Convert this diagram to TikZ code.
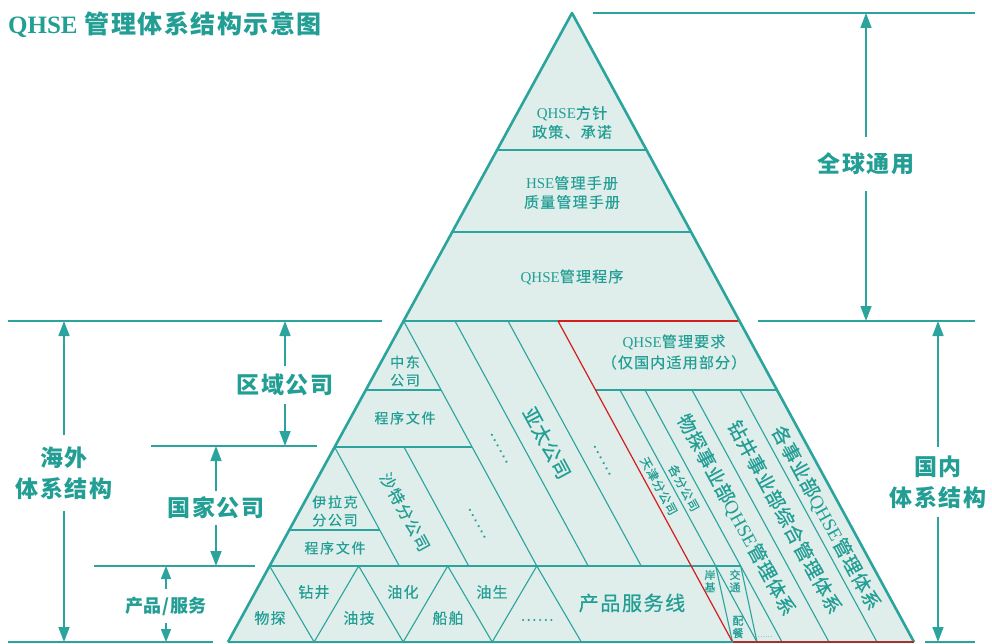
\documentclass[tikz,border=0pt]{standalone}
\usepackage{fontspec}
\setmainfont{Noto Sans CJK SC}
\newfontfamily\lat{Liberation Serif}
\usetikzlibrary{arrows.meta}
\definecolor{tl}{RGB}{42,164,156}
\definecolor{tx}{RGB}{34,158,148}
\definecolor{fl}{RGB}{223,237,235}
\definecolor{rd}{RGB}{210,30,30}
\definecolor{rdb}{RGB}{165,50,50}
\tikzset{
  pedge/.style={draw=tl, line width=2.6pt, line join=round},
  pthin/.style={draw=tl, line width=1.1pt},
  pmid/.style={draw=tl, line width=2pt},
  pred/.style={draw=rd, line width=1.2pt},
  annl/.style={draw=tl, line width=1.5pt},
  arr/.style={draw=tl, line width=1.5pt, -{Triangle[length=15pt,width=11pt]}},
  arrs/.style={draw=tl, line width=1.5pt, -{Triangle[length=13pt,width=10pt]}},
  lbl/.style={text=tx, align=center, inner sep=0pt},
  s11/.style={lbl, font=\fontsize{11}{12.5}\selectfont\addfontfeature{FakeBold=0.3}},
  s12/.style={lbl, font=\fontsize{12}{14}\selectfont\addfontfeature{LetterSpace=8,FakeBold=0.3}},
  s14/.style={lbl, font=\fontsize{14}{18}\selectfont\addfontfeature{LetterSpace=12,FakeBold=0.4}},
  s15/.style={lbl, font=\fontsize{15}{19}\selectfont\addfontfeature{LetterSpace=8,FakeBold=0.4}},
  s16/.style={lbl, font=\fontsize{16}{19}\selectfont\addfontfeature{LetterSpace=10,FakeBold=0.4}},
  s19/.style={lbl, font=\fontsize{19}{22}\selectfont\addfontfeature{LetterSpace=4,FakeBold=0.6}},
  s20/.style={lbl, font=\fontsize{20}{24}\selectfont\addfontfeature{LetterSpace=8,FakeBold=0.6}},
  big/.style={lbl, font=\bfseries\fontsize{23}{31}\selectfont\addfontfeature{LetterSpace=8}},
  rot/.style={rotate=-61.5},
}
\begin{document}
\begin{tikzpicture}[x=1pt,y=-1pt]
\useasboundingbox (0,0) rectangle (992,644);
% pyramid
\coordinate (A) at (572,13);
\coordinate (L) at (228,642);
\coordinate (R) at (914,642);
\coordinate (RB) at (732.5,642);
\fill[fl] (A) -- (L) -- (R) -- cycle;
% upper bands
\draw[pmid] (497.1,150) -- (646.5,150);
\draw[pmid] (452.2,232) -- (691.1,232);
\draw[pmid] (403.6,321) -- (558,321);
\draw[pred] (558,321) -- (739.5,321);
% overseas region
\draw[pthin] (403.6,321) -- (536.8,566);
\draw[pthin] (455,321) -- (588.2,566);
\draw[pthin] (508,321) -- (641.2,566);
\draw[pmid] (365.8,390) -- (441.1,390);
\draw[pmid] (334.6,447) -- (472.1,447);
\draw[pthin] (334.6,447) -- (399.3,566);
\draw[pthin] (404,447) -- (468.7,566);
\draw[pmid] (289.3,530) -- (379.7,530);
% domestic region
\draw[pmid] (595.5,390) -- (777,390);
\draw[pthin] (620,390) -- (757,642);
\draw[pthin] (645,390) -- (782,642);
\draw[pthin] (692,390) -- (829,642);
\draw[pthin] (740,390) -- (877,642);
\draw[pthin] (715.7,566) -- (RB);
\draw[pthin] (740.7,566) -- (757,642);
% product row
\draw[pmid] (269.6,566) -- (740.7,566);
\draw[pthin] (269.6,566) -- (314.1,642) -- (358.7,566) -- (403.2,642) -- (447.7,566)
  -- (492.2,642) -- (536.8,566) -- (581.3,642);
\draw[pred] (558,321) -- (RB);
% outline
\draw[pedge] (L) -- (A) -- (R);
\draw[pedge] (L) -- (RB);
\draw[draw=rdb, line width=2pt] (RB) -- (R);

% pyramid texts
\node[s15] (t1) at (572,122.5) {{\lat QHSE}方针\\政策、承诺};
\node[s15] (t2) at (572,192.5) {{\lat HSE}管理手册\\质量管理手册};
\node[s15] (t3) at (572,277) {{\lat QHSE}管理程序};
\node[s15] (t4) at (674,352) {{\lat QHSE}管理要求\\[2pt]（仅国内适用部分）};
\node[s14] (zd) at (405,371) {中东\\公司};
\node[s14] (cx1) at (405,418) {程序文件};
\node[s14] (ylk) at (335,511) {伊拉克\\分公司};
\node[s14] (cx2) at (335,548) {程序文件};
\node[s16,rot] (st) at (405,512) {沙特分公司};
\node[s16,rot] (dt1) at (477,523) {……};
\node[s16,rot] (dt2) at (499,448) {……};
\node[s19,rot] (yt) at (547,443) {亚太公司};
\node[s16,rot] (dt3) at (602,460) {……};
\node[s12,rot] (tj) at (659,486) {天津分公司};
\node[s12,rot] (gf) at (684,488) {各分公司};
\node[s19,rot] (wt) at (736,515) {物探事业部{\lat QHSE}管理体系};
\node[s19,rot] (zj) at (785,517) {钻井事业部综合管理体系};
\node[s19,rot] (gs) at (826,518) {各事业部{\lat QHSE}管理体系};
% product row texts
\node[s15] (p1) at (270,618) {物探};
\node[s15] (p2) at (314,592) {钻井};
\node[s15] (p3) at (359,618) {油技};
\node[s15] (p4) at (403,592) {油化};
\node[s15] (p5) at (448,618) {船舶};
\node[s15] (p6) at (492,592) {油生};
\node[s15] (p7) at (537,620) {……};
\node[s20] (cp) at (632,603) {产品服务线};
\node[s11] (aj) at (710,581) {岸\\基};
\node[s11] (jt) at (735,581) {交\\通};
\node[s11] (pc) at (738,627) {配\\餐};
\node[lbl, font=\fontsize{7}{8}\selectfont] (dt4) at (765,637) {……};

% title
\node[lbl, anchor=west, font=\bfseries\fontsize{25}{28}\selectfont\addfontfeature{LetterSpace=6}] (title) at (8,25) {{\lat QHSE} 管理体系结构示意图};

% reference lines
\draw[annl] (593,13) -- (975,13);
\draw[annl] (758,321) -- (975,321);
\draw[annl] (8,321) -- (382,321);
\draw[annl] (151,446) -- (317,446);
\draw[annl] (94,566) -- (255,566);
\draw[annl] (8,642) -- (213,642);
\draw[annl] (925,642) -- (975,642);

% annotation labels and arrows
\node[big, inner ysep=16pt] (qq) at (866,164) {全球通用};
\coordinate (qqt) at (866,13);
\coordinate (qqb) at (866,321);
\draw[arr] (qq) -- (qqt);
\draw[arr] (qq) -- (qqb);

\node[big, inner ysep=8pt] (gn) at (938,482) {国内\\体系结构};
\coordinate (gnt) at (938,321);
\coordinate (gnb) at (938,642);
\draw[arr] (gn) -- (gnt);
\draw[arr] (gn) -- (gnb);

\node[big, inner ysep=11pt] (hw) at (64,473) {海外\\体系结构};
\coordinate (hwt) at (64,321);
\coordinate (hwb) at (64,642);
\draw[arr] (hw) -- (hwt);
\draw[arr] (hw) -- (hwb);

\node[big, inner ysep=8pt] (qy) at (285,385) {区域公司};
\coordinate (qyt) at (285,321);
\coordinate (qyb) at (285,446);
\draw[arr] (qy) -- (qyt);
\draw[arr] (qy) -- (qyb);

\node[big, inner ysep=6pt] (gj) at (216,508) {国家公司};
\coordinate (gjt) at (216,446);
\coordinate (gjb) at (216,566);
\draw[arr] (gj) -- (gjt);
\draw[arr] (gj) -- (gjb);

\node[lbl, font=\bfseries\fontsize{18}{22}\selectfont\addfontfeature{LetterSpace=4}, inner ysep=7pt] (cf) at (166,606) {产品/服务};
\coordinate (cft) at (166,566);
\coordinate (cfb) at (166,642);
\draw[arrs] (cf) -- (cft);
\draw[arrs] (cf) -- (cfb);
\end{tikzpicture}
\end{document}
